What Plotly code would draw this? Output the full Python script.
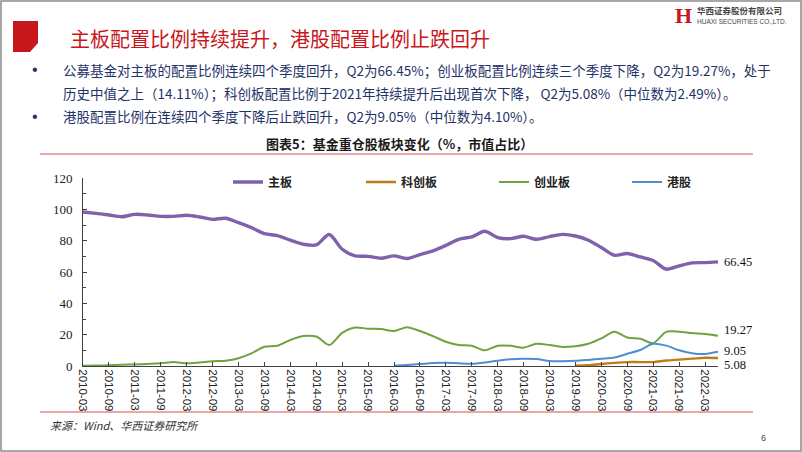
import plotly.graph_objects as go

quarters = [f"{y}-{m}" for y in range(2010, 2023) for m in ["03", "06", "09", "12"]][:50]
tick_labels = quarters[::2]

main_board = [98.3, 97.4, 96.4, 95.3, 96.8, 96.4, 95.5, 95.5, 96.2, 95.1,
              93.6, 94.3, 91.5, 88.3, 84.5, 83.2, 80.3, 77.7, 77.3, 83.9,
              74.5, 70.3, 70.0, 68.8, 70.3, 68.6, 71.1, 73.5, 77.0, 80.9,
              82.4, 86.0, 82.0, 81.3, 82.8, 80.9, 82.6, 84.0, 83.0, 80.3,
              75.6, 70.7, 71.8, 69.6, 67.3, 61.8, 63.9, 65.8, 66.0, 66.45]
star_board = [None] * 38 + [0.2, 0.5, 1.3, 2.0, 2.5, 2.5, 2.5, 3.5, 4.1, 4.7, 5.3, 5.08]
chinext = [0.2, 0.3, 0.5, 0.8, 1.0, 1.3, 1.7, 2.5, 1.7, 2.3,
           3.0, 3.4, 5.0, 8.1, 12.3, 12.9, 16.6, 19.1, 18.8, 13.4,
           21.2, 24.6, 23.8, 23.6, 22.3, 24.8, 22.3, 19.1, 15.5, 13.4,
           12.9, 10.0, 12.9, 12.9, 11.7, 14.2, 13.4, 12.1, 12.6, 14.2,
           17.6, 21.9, 18.2, 17.4, 14.6, 21.8, 21.9, 21.0, 20.4, 19.27]
hk_stocks = [None] * 24 + [0.2, 0.6, 1.2, 1.9, 2.1, 1.7, 1.4, 2.2, 3.4, 4.3,
                           4.6, 4.4, 3.2, 3.1, 3.3, 3.9, 4.6, 5.4, 7.8, 10.2,
                           14.2, 13.0, 10.0, 8.2, 7.7, 9.05]

series_names = ["主板", "科创板", "创业板", "港股"]
series_values = [main_board, star_board, chinext, hk_stocks]
series_colors = ["#7E62AC", "#C07C14", "#70A23E", "#4D8ED2"]
series_widths = [3.4, 2.4, 2.0, 2.0]
end_labels = ["66.45", "5.08", "19.27", "9.05"]
end_label_shift = [0, -7, 6, 1]

W, H = 802, 452
L, R, T, B = 83, 718, 178, 366


def px(x):
    return (x - L) / (R - L)


def py(y):
    return (B - y) / (B - T)


fig = go.Figure()
for name, vals, col, w in zip(series_names, series_values, series_colors, series_widths):
    fig.add_trace(go.Scatter(x=quarters, y=vals, name=name, mode="lines",
                             line=dict(color=col, width=w, shape="spline", smoothing=0.8),
                             connectgaps=False))

ann = []
for vals, lab, col, sh in zip(series_values, end_labels, series_colors, end_label_shift):
    ann.append(dict(x=quarters[-1], y=vals[-1], xref="x", yref="y", text=lab,
                    showarrow=False, xanchor="left", yanchor="middle", xshift=4, yshift=sh,
                    font=dict(family="Liberation Serif", size=12.5, color="#111")))

cjk = "Noto Sans CJK SC"
text_col = "#1F3368"
# slide title
ann.append(dict(x=px(68), y=py(38), xref="paper", yref="paper", text="主板配置比例持续提升，港股配置比例止跌回升",
                showarrow=False, xanchor="left", yanchor="middle",
                font=dict(family=cjk, size=20, color="#C8161D")))
# bullets
bullets = [
    (70, "公募基金对主板的配置比例连续四个季度回升，Q2为66.45%；创业板配置比例连续三个季度下降，Q2为19.27%，处于"),
    (93, "历史中值之上（14.11%）；科创板配置比例于2021年持续提升后出现首次下降， Q2为5.08%（中位数为2.49%）。"),
    (116, "港股配置比例在连续四个季度下降后止跌回升，Q2为9.05%（中位数为4.10%）。"),
]
for yy, t in bullets:
    ann.append(dict(x=px(61), y=py(yy), xref="paper", yref="paper", text=t, showarrow=False,
                    xanchor="left", yanchor="middle", font=dict(family=cjk, size=13.5, color=text_col)))
for yy in (70, 116):
    ann.append(dict(x=px(35), y=py(yy), xref="paper", yref="paper", text="•", showarrow=False,
                    xanchor="center", yanchor="middle", font=dict(family="Liberation Sans", size=16, color=text_col)))
# chart title
ann.append(dict(x=px(399), y=py(143), xref="paper", yref="paper", text="图表5：基金重仓股板块变化（%，市值占比）",
                showarrow=False, xanchor="center", yanchor="middle",
                font=dict(family=cjk, size=13, color="#1a1a1a", weight=700)))
# source
ann.append(dict(x=px(48), y=py(425), xref="paper", yref="paper", text="来源：Wind、华西证券研究所",
                showarrow=False, xanchor="left", yanchor="middle",
                font=dict(family=cjk, size=11, color="#333", style="italic")))
# page number
ann.append(dict(x=px(763), y=py(438), xref="paper", yref="paper", text="6", showarrow=False,
                xanchor="center", yanchor="middle", font=dict(family="Liberation Sans", size=9, color="#444")))
# logo
ann.append(dict(x=px(683), y=py(15), xref="paper", yref="paper", text="<b>H</b>", showarrow=False,
                xanchor="center", yanchor="middle", font=dict(family="Liberation Serif", size=22, color="#C8161D")))
ann.append(dict(x=px(695), y=py(10), xref="paper", yref="paper", text="<b>华西证券股份有限公司</b>", showarrow=False,
                xanchor="left", yanchor="middle", font=dict(family=cjk, size=8.5, color="#444")))
ann.append(dict(x=px(695), y=py(21), xref="paper", yref="paper", text="HUAXI SECURITIES CO.,LTD.", showarrow=False,
                xanchor="left", yanchor="middle", font=dict(family="Liberation Sans Narrow, Liberation Sans", size=6.5, color="#444")))

shapes = [
    dict(type="rect", xref="paper", yref="paper", x0=px(1), x1=px(801), y0=py(1), y1=py(451),
         line=dict(color="#8a8a8a", width=1.5), fillcolor="rgba(0,0,0,0)", layer="below"),
    dict(type="path", xref="paper", yref="paper",
         path=f"M {px(13)} {py(21)} L {px(38)} {py(21)} L {px(38)} {py(43)} L {px(30)} {py(52)} L {px(13)} {py(52)} Z",
         fillcolor="#C8161D", line=dict(width=0)),
    dict(type="line", xref="paper", yref="paper", x0=px(40), x1=px(753), y0=py(154), y1=py(154),
         line=dict(color="#D65454", width=1.2)),
    dict(type="line", xref="paper", yref="paper", x0=px(40), x1=px(753), y0=py(412), y1=py(412),
         line=dict(color="#D65454", width=1.2)),
]

fig.update_layout(
    width=W, height=H, autosize=False,
    margin=dict(l=L, r=W - R, t=T, b=H - B, pad=0),
    paper_bgcolor="white", plot_bgcolor="white",
    annotations=ann, shapes=shapes,
    showlegend=True,
    legend=dict(orientation="h", x=px(228), y=py(182), xanchor="left", yanchor="middle",
                bgcolor="rgba(0,0,0,0)", itemwidth=30, entrywidth=88, entrywidthmode="pixels",
                font=dict(family=cjk, size=12, color="#222", weight=700), traceorder="normal"),
    xaxis=dict(type="category", categoryorder="array", categoryarray=quarters,
               range=[0, 49], tickmode="array", tickvals=tick_labels, ticktext=tick_labels,
               tickangle=90, ticks="inside", ticklen=4, tickcolor="#404040",
               showline=True, linecolor="#404040", linewidth=1, showgrid=False, zeroline=False,
               tickfont=dict(family="Liberation Sans", size=11.5, color="#222")),
    yaxis=dict(range=[0, 120], dtick=20, ticks="inside", ticklen=4, tickcolor="#404040",
               minor=dict(dtick=10, ticks="inside", ticklen=3, tickcolor="#404040"),
               showline=True, linecolor="#404040", linewidth=1, showgrid=False, zeroline=False,
               ticklabelstandoff=7,
               tickfont=dict(family="Liberation Serif", size=13, color="#222")),
)

fig.write_html("out.html", config={"displayModeBar": False},
               post_script="document.body.style.margin='0';document.body.style.overflow='hidden';")
